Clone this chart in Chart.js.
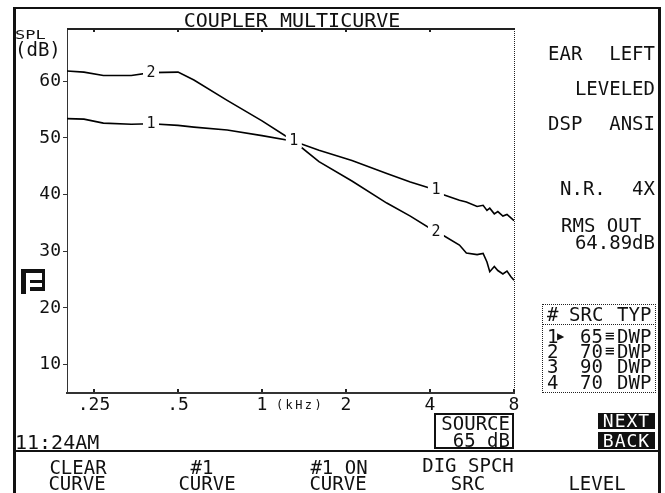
<!DOCTYPE html>
<html>
<head>
<meta charset="utf-8">
<script src="https://cdn.jsdelivr.net/npm/chart.js@4.4.1/dist/chart.umd.min.js"></script>
<style>
  html, body { margin: 0; padding: 0; background: #fff; }
  #screen { position: relative; width: 665px; height: 493px; overflow: hidden;
            font-family: "DejaVu Sans Mono", monospace; color: #111; }
  #screen canvas { position: absolute; left: 0; top: 0; }
  .t { position: absolute; white-space: pre; line-height: 1; }
  .b { position: absolute; box-sizing: border-box; }
</style>
</head>
<body>
<div id="screen">
  <canvas id="coupler" width="665" height="493"></canvas>
</div>
<script>
// frequency (kHz) and measured SPL (dB) of the two curves
const freqs  = [0.2, 0.23, 0.27, 0.34, 0.4, 0.5, 0.57, 0.75, 1.0, 1.3, 1.6, 2.1, 2.8, 3.4,
                4.2, 4.5, 5.1, 5.4, 5.9, 6.2, 6.4, 6.55, 6.8, 7.0, 7.3, 7.55, 7.8, 8.0];
const curve1 = [53.4, 53.3, 52.6, 52.4, 52.5, 52.2, 51.9, 51.4, 50.4, 49.4, 47.8, 46.0, 43.7, 42.2,
                40.8, 39.9, 39.0, 38.7, 37.9, 38.1, 37.2, 37.6, 36.6, 37.0, 36.2, 36.5, 35.9, 35.4];
const curve2 = [61.8, 61.6, 61.0, 61.0, 61.5, 61.6, 60.2, 56.6, 53.0, 49.4, 45.8, 42.4, 38.5, 36.2,
                33.4, 32.7, 31.1, 29.7, 29.4, 29.6, 28.1, 26.4, 27.3, 26.6, 26.0, 26.5, 25.5, 24.9];

const yTicks = [10, 20, 30, 40, 50, 60];
const xTicks = [0.25, 0.5, 1, 2, 4, 8];
const xTickLabels = [".25", ".5", "1", "2", "4", "8"];

// points (index into freqs) where the curve number is written on the line
const curve1Marks = [4, 9, 14];
const curve2Marks = [4, 14];

const screen = document.getElementById("screen");

function put(text, x, y, align, size, opts) {
    align = align || "left";
    size = size || 19;
    opts = opts || {};
    const d = document.createElement("div");
    d.className = "t";
    d.textContent = text;
    d.style.fontSize = size + "px";
    d.style.top = (y - 0.4815 * size) + "px";
    if (align === "right") {
        d.style.right = (665 - x) + "px";
    } else if (align === "center") {
        d.style.left = x + "px";
        d.style.transform = "translateX(-50%)";
    } else {
        d.style.left = x + "px";
    }
    if (opts.color) d.style.color = opts.color;
    if (opts.spacing) d.style.letterSpacing = opts.spacing + "px";
    if (opts.sy) {
        d.style.transform = (d.style.transform || "") + " scaleY(" + opts.sy + ")";
        d.style.transformOrigin = "center " + (0.4815 * size) + "px";
    }
    screen.appendChild(d);
}

function box(x, y, w, h, css) {
    const d = document.createElement("div");
    d.className = "b";
    d.style.left = x + "px";
    d.style.top = y + "px";
    d.style.width = w + "px";
    d.style.height = h + "px";
    Object.assign(d.style, css || { background: "#111" });
    screen.appendChild(d);
}

// outer frame and separator
box(13, 7, 3, 486);
box(658, 7, 3, 486);
box(13, 7, 648, 2);
box(13, 450, 648, 2);

// header texts
put("COUPLER MULTICURVE", 292, 20, "center", 20);
put("SPL", 15, 34, "left", 17, { sy: 0.75 });
put("(dB)", 15, 49, "left", 19);

// right panel
put("EAR", 548, 53);
put("LEFT", 655, 53, "right");
put("LEVELED", 655, 88, "right");
put("DSP", 548, 123);
put("ANSI", 655, 123, "right");
put("N.R.", 560, 188);
put("4X", 655, 188, "right");
put("RMS OUT", 561, 225);
put("64.89dB", 655, 242, "right");

// source table
box(542, 304, 114, 89, { border: "1px dotted #222" });
box(542, 324, 114, 1, { borderTop: "1px dotted #222" });
put("#", 547, 314);
put("SRC", 569, 314);
put("TYP", 617, 314);
const rowY = [336, 351, 366.5, 382];
const rowNum = ["1", "2", "3", "4"];
const rowSrc = ["65", "70", "90", "70"];
const rowEq = ["\u2261", "\u2261", "", ""];
rowY.forEach((y, i) => {
    put(rowNum[i], 547, y);
    put(rowSrc[i], 580, y);
    if (rowEq[i]) put(rowEq[i], 605, y, "left", 16);
    put("DWP", 617, y);
});
put("\u25B6", 557, 336, "left", 12);

// memory symbol at left
box(21, 269, 5, 25);
box(21, 269, 24, 4);
box(42, 269, 3, 22);
box(30, 280, 15, 3);
box(30, 287, 15, 4);

// axis unit
put("(kHz)", 276, 404.5, "left", 12, { spacing: 2.4 });

// bottom area
put("11:24AM", 15, 442, "left", 20);
box(434, 413, 80, 36, { border: "2px solid #111" });
put("SOURCE", 510, 423, "right");
put("65 dB", 510, 440, "right");
box(598, 413, 57, 16);
box(598, 432, 57, 17);
put("NEXT", 626.5, 421, "center", 18, { color: "#fff", spacing: 1 });
put("BACK", 626.5, 440.5, "center", 18, { color: "#fff", spacing: 1 });

// soft keys
put("CLEAR", 78, 467, "center");
put("CURVE", 77, 483, "center");
put("#1", 202, 467, "center");
put("CURVE", 207, 483, "center");
put("#1 ON", 339, 467, "center");
put("CURVE", 338, 483, "center");
put("DIG SPCH", 468, 465, "center");
put("SRC", 468, 483, "center");
put("LEVEL", 597, 483, "center");

// chart frame: solid top, dotted right, inward ticks
const framePlugin = {
    id: "frame",
    afterDraw(chart) {
        const ctx = chart.ctx;
        const a = chart.chartArea;
        const xs = chart.scales.x;
        ctx.save();
        ctx.fillStyle = "#222";
        ctx.fillRect(a.left, a.top - 1, a.right - a.left + 1, 2);
        for (let y = a.top; y < a.bottom; y += 2) {
            ctx.fillRect(Math.round(a.right), y, 1, 1);
        }
        xTicks.forEach(v => {
            const px = Math.round(xs.getPixelForValue(v));
            if (v < 8) ctx.fillRect(px - 1, a.top + 1, 2, 2);
            ctx.fillRect(px - 1, a.bottom - 4, 2, 3);
        });
        ctx.restore();
    }
};

// curve numbers written on the lines
const marksPlugin = {
    id: "marks",
    afterDatasetsDraw(chart) {
        const ctx = chart.ctx;
        const xs = chart.scales.x;
        const ys = chart.scales.y;
        const marks = [];
        curve1Marks.forEach(i => marks.push({ x: freqs[i], y: curve1[i], t: "1" }));
        curve2Marks.forEach(i => marks.push({ x: freqs[i], y: curve2[i], t: "2" }));
        ctx.save();
        ctx.fillStyle = "#fff";
        marks.forEach(m => {
            const px = xs.getPixelForValue(m.x);
            const py = ys.getPixelForValue(m.y);
            ctx.fillRect(px - 8, py - 7, 16, 14);
        });
        ctx.fillStyle = "#111";
        ctx.font = "15px 'DejaVu Sans Mono'";
        ctx.textAlign = "center";
        ctx.textBaseline = "middle";
        marks.forEach(m => {
            ctx.fillText(m.t, xs.getPixelForValue(m.x), ys.getPixelForValue(m.y));
        });
        ctx.restore();
    }
};

Chart.defaults.font.family = "'DejaVu Sans Mono', monospace";
Chart.defaults.color = "#111";

new Chart(document.getElementById("coupler"), {
    type: "line",
    data: {
        datasets: [
            {
                label: "1",
                data: freqs.map((f, i) => ({ x: f, y: curve1[i] })),
                borderColor: "#000",
                borderWidth: 1.6,
                pointRadius: 0,
                tension: 0,
                fill: false
            },
            {
                label: "2",
                data: freqs.map((f, i) => ({ x: f, y: curve2[i] })),
                borderColor: "#000",
                borderWidth: 1.6,
                pointRadius: 0,
                tension: 0,
                fill: false
            }
        ]
    },
    options: {
        responsive: false,
        animation: false,
        devicePixelRatio: 1,
        layout: { padding: { left: 0, top: 29, right: 151, bottom: 70 } },
        plugins: {
            legend: { display: false },
            tooltip: { enabled: false },
            title: { display: false }
        },
        scales: {
            x: {
                type: "logarithmic",
                min: 0.2,
                max: 8,
                afterBuildTicks: s => { s.ticks = xTicks.map(v => ({ value: v })); },
                afterFit: s => { s.height = 30; },
                ticks: {
                    autoSkip: false,
                    maxRotation: 0,
                    padding: -6,
                    font: { size: 18 },
                    callback: (v, i) => xTickLabels[i]
                },
                grid: { display: false },
                border: { display: true, color: "#333", width: 2 }
            },
            y: {
                min: 5,
                max: 69.2,
                afterBuildTicks: s => { s.ticks = yTicks.map(v => ({ value: v })); },
                afterFit: s => { s.width = 67; },
                ticks: { padding: 2, font: { size: 18 } },
                grid: { display: true, drawOnChartArea: false, drawTicks: true, tickLength: 4, color: "#333" },
                border: { display: true, color: "#333", width: 1, dash: [1, 1] }
            }
        }
    },
    plugins: [framePlugin, marksPlugin]
});
</script>
</body>
</html>
